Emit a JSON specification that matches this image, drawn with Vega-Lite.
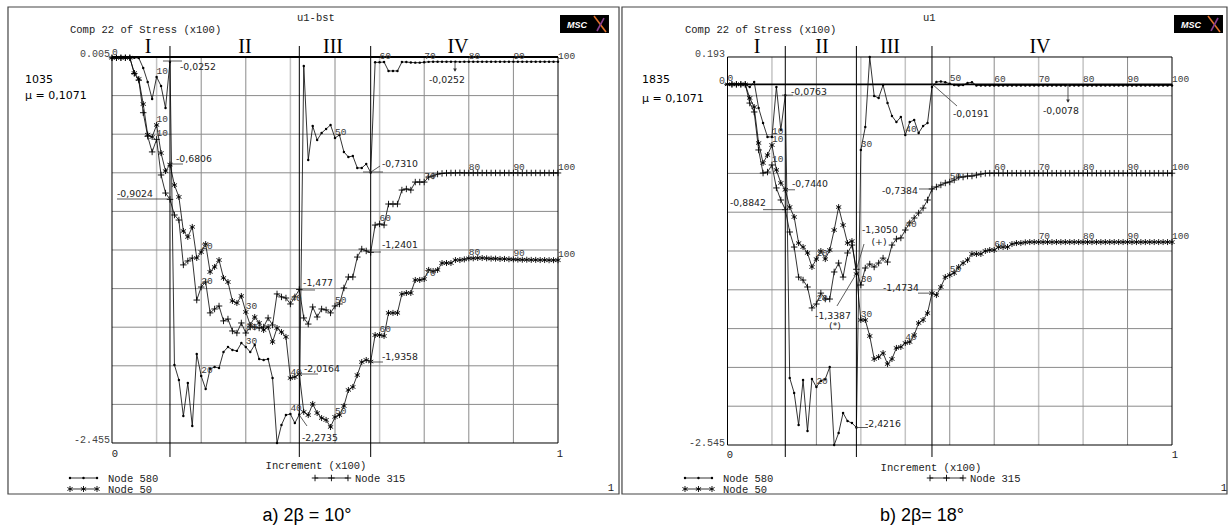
{
"$schema": "https://vega.github.io/schema/vega-lite/v6.json",
"width": 1229, "height": 526, "padding": 0, "autosize": {"type": "none"},
"background": "#ffffff",
"config": {"view": {"stroke": null}},
"datasets": {
"a": [
{"node":"580","inc":0,"v":0},{"node":"580","inc":1,"v":0},{"node":"580","inc":2,"v":0},{"node":"580","inc":3,"v":0},{"node":"580","inc":4,"v":0},{"node":"580","inc":5,"v":0},{"node":"580","inc":6,"v":-0.001},{"node":"580","inc":7,"v":-0.065},{"node":"580","inc":8,"v":-0.154},{"node":"580","inc":9,"v":-0.263},
{"node":"580","inc":10,"v":-0.122},{"node":"580","inc":11,"v":-0.18},{"node":"580","inc":12,"v":-0.32},{"node":"580","inc":13,"v":-0.0252},{"node":"580","inc":14,"v":-1.958},{"node":"580","inc":15,"v":-2.053},{"node":"580","inc":16,"v":-2.283},{"node":"580","inc":17,"v":-2.073},{"node":"580","inc":18,"v":-2.347},{"node":"580","inc":19,"v":-1.888},
{"node":"580","inc":20,"v":-2.028},{"node":"580","inc":21,"v":-2.111},{"node":"580","inc":22,"v":-1.983},{"node":"580","inc":23,"v":-1.971},{"node":"580","inc":24,"v":-1.977},{"node":"580","inc":25,"v":-1.875},{"node":"580","inc":26,"v":-1.843},{"node":"580","inc":27,"v":-1.862},{"node":"580","inc":28,"v":-1.868},{"node":"580","inc":29,"v":-1.818},
{"node":"580","inc":30,"v":-1.843},{"node":"580","inc":31,"v":-1.875},{"node":"580","inc":32,"v":-1.83},{"node":"580","inc":33,"v":-1.92},{"node":"580","inc":34,"v":-1.926},{"node":"580","inc":35,"v":-1.92},{"node":"580","inc":36,"v":-2.041},{"node":"580","inc":37,"v":-2.455},{"node":"580","inc":38,"v":-2.34},{"node":"580","inc":39,"v":-2.277},
{"node":"580","inc":40,"v":-2.27},{"node":"580","inc":41,"v":-2.328},{"node":"580","inc":42,"v":-2.2735},{"node":"580","inc":43,"v":-0.052},{"node":"580","inc":44,"v":-0.651},{"node":"580","inc":45,"v":-0.435},{"node":"580","inc":46,"v":-0.524},{"node":"580","inc":47,"v":-0.479},{"node":"580","inc":48,"v":-0.454},{"node":"580","inc":49,"v":-0.428},
{"node":"580","inc":50,"v":-0.511},{"node":"580","inc":51,"v":-0.492},{"node":"580","inc":52,"v":-0.6},{"node":"580","inc":53,"v":-0.632},{"node":"580","inc":54,"v":-0.626},{"node":"580","inc":55,"v":-0.702},{"node":"580","inc":56,"v":-0.702},{"node":"580","inc":57,"v":-0.677},{"node":"580","inc":58,"v":-0.731},{"node":"580","inc":59,"v":-0.029},
{"node":"580","inc":60,"v":-0.029},{"node":"580","inc":61,"v":-0.027},{"node":"580","inc":62,"v":-0.084},{"node":"580","inc":63,"v":-0.084},{"node":"580","inc":64,"v":-0.084},{"node":"580","inc":65,"v":-0.027},{"node":"580","inc":66,"v":-0.027},{"node":"580","inc":67,"v":-0.03},{"node":"580","inc":68,"v":-0.031},{"node":"580","inc":69,"v":-0.031},
{"node":"580","inc":70,"v":-0.028},{"node":"580","inc":71,"v":-0.026},{"node":"580","inc":72,"v":-0.025},{"node":"580","inc":73,"v":-0.025},{"node":"580","inc":74,"v":-0.025},{"node":"580","inc":75,"v":-0.0252},{"node":"580","inc":76,"v":-0.025},{"node":"580","inc":77,"v":-0.025},{"node":"580","inc":78,"v":-0.026},{"node":"580","inc":79,"v":-0.025},
{"node":"580","inc":80,"v":-0.025},{"node":"580","inc":81,"v":-0.025},{"node":"580","inc":82,"v":-0.025},{"node":"580","inc":83,"v":-0.025},{"node":"580","inc":84,"v":-0.025},{"node":"580","inc":85,"v":-0.025},{"node":"580","inc":86,"v":-0.025},{"node":"580","inc":87,"v":-0.025},{"node":"580","inc":88,"v":-0.025},{"node":"580","inc":89,"v":-0.025},
{"node":"580","inc":90,"v":-0.025},{"node":"580","inc":91,"v":-0.025},{"node":"580","inc":92,"v":-0.025},{"node":"580","inc":93,"v":-0.025},{"node":"580","inc":94,"v":-0.025},{"node":"580","inc":95,"v":-0.025},{"node":"580","inc":96,"v":-0.025},{"node":"580","inc":97,"v":-0.025},{"node":"580","inc":98,"v":-0.025},{"node":"580","inc":99,"v":-0.025},{"node":"580","inc":100,"v":-0.025},
{"node":"315","inc":0,"v":0},{"node":"315","inc":1,"v":0},{"node":"315","inc":2,"v":0},{"node":"315","inc":3,"v":0},{"node":"315","inc":4,"v":0},{"node":"315","inc":5,"v":-0.1},{"node":"315","inc":6,"v":-0.142},{"node":"315","inc":7,"v":-0.35},{"node":"315","inc":8,"v":-0.5},{"node":"315","inc":9,"v":-0.6},
{"node":"315","inc":10,"v":-0.52},{"node":"315","inc":11,"v":-0.747},{"node":"315","inc":12,"v":-0.862},{"node":"315","inc":13,"v":-0.9024},{"node":"315","inc":14,"v":-1.002},{"node":"315","inc":15,"v":-1.034},{"node":"315","inc":16,"v":-1.32},{"node":"315","inc":17,"v":-1.295},{"node":"315","inc":18,"v":-1.276},{"node":"315","inc":19,"v":-1.544},
{"node":"315","inc":20,"v":-1.461},{"node":"315","inc":21,"v":-1.429},{"node":"315","inc":22,"v":-1.626},{"node":"315","inc":23,"v":-1.601},{"node":"315","inc":24,"v":-1.582},{"node":"315","inc":25,"v":-1.677},{"node":"315","inc":26,"v":-1.665},{"node":"315","inc":27,"v":-1.741},{"node":"315","inc":28,"v":-1.754},{"node":"315","inc":29,"v":-1.69},
{"node":"315","inc":30,"v":-1.754},{"node":"315","inc":31,"v":-1.716},{"node":"315","inc":32,"v":-1.716},{"node":"315","inc":33,"v":-1.722},{"node":"315","inc":34,"v":-1.716},{"node":"315","inc":35,"v":-1.658},{"node":"315","inc":36,"v":-1.703},{"node":"315","inc":37,"v":-1.505},{"node":"315","inc":38,"v":-1.524},{"node":"315","inc":39,"v":-1.531},
{"node":"315","inc":40,"v":-1.569},{"node":"315","inc":41,"v":-1.524},{"node":"315","inc":42,"v":-1.477},{"node":"315","inc":43,"v":-1.658},{"node":"315","inc":44,"v":-1.697},{"node":"315","inc":45,"v":-1.588},{"node":"315","inc":46,"v":-1.652},{"node":"315","inc":47,"v":-1.601},{"node":"315","inc":48,"v":-1.607},{"node":"315","inc":49,"v":-1.626},
{"node":"315","inc":50,"v":-1.582},{"node":"315","inc":51,"v":-1.569},{"node":"315","inc":52,"v":-1.467},{"node":"315","inc":53,"v":-1.397},{"node":"315","inc":54,"v":-1.397},{"node":"315","inc":55,"v":-1.27},{"node":"315","inc":56,"v":-1.219},{"node":"315","inc":57,"v":-1.231},{"node":"315","inc":58,"v":-1.2401},{"node":"315","inc":59,"v":-1.066},
{"node":"315","inc":60,"v":-1.059},{"node":"315","inc":61,"v":-1.066},{"node":"315","inc":62,"v":-0.932},{"node":"315","inc":63,"v":-0.932},{"node":"315","inc":64,"v":-0.932},{"node":"315","inc":65,"v":-0.843},{"node":"315","inc":66,"v":-0.836},{"node":"315","inc":67,"v":-0.843},{"node":"315","inc":68,"v":-0.792},{"node":"315","inc":69,"v":-0.792},
{"node":"315","inc":70,"v":-0.792},{"node":"315","inc":71,"v":-0.76},{"node":"315","inc":72,"v":-0.753},{"node":"315","inc":73,"v":-0.741},{"node":"315","inc":74,"v":-0.737},{"node":"315","inc":75,"v":-0.735},{"node":"315","inc":76,"v":-0.734},{"node":"315","inc":77,"v":-0.734},{"node":"315","inc":78,"v":-0.733},{"node":"315","inc":79,"v":-0.734},
{"node":"315","inc":80,"v":-0.734},{"node":"315","inc":81,"v":-0.734},{"node":"315","inc":82,"v":-0.734},{"node":"315","inc":83,"v":-0.734},{"node":"315","inc":84,"v":-0.734},{"node":"315","inc":85,"v":-0.734},{"node":"315","inc":86,"v":-0.734},{"node":"315","inc":87,"v":-0.734},{"node":"315","inc":88,"v":-0.734},{"node":"315","inc":89,"v":-0.734},
{"node":"315","inc":90,"v":-0.734},{"node":"315","inc":91,"v":-0.734},{"node":"315","inc":92,"v":-0.735},{"node":"315","inc":93,"v":-0.734},{"node":"315","inc":94,"v":-0.734},{"node":"315","inc":95,"v":-0.734},{"node":"315","inc":96,"v":-0.734},{"node":"315","inc":97,"v":-0.734},{"node":"315","inc":98,"v":-0.734},{"node":"315","inc":99,"v":-0.734},{"node":"315","inc":100,"v":-0.734},
{"node":"50","inc":0,"v":0},{"node":"50","inc":1,"v":0},{"node":"50","inc":2,"v":0},{"node":"50","inc":3,"v":0},{"node":"50","inc":4,"v":0},{"node":"50","inc":5,"v":-0.097},{"node":"50","inc":6,"v":-0.135},{"node":"50","inc":7,"v":-0.295},{"node":"50","inc":8,"v":-0.49},{"node":"50","inc":9,"v":-0.505},
{"node":"50","inc":10,"v":-0.428},{"node":"50","inc":11,"v":-0.607},{"node":"50","inc":12,"v":-0.722},{"node":"50","inc":13,"v":-0.6806},{"node":"50","inc":14,"v":-0.811},{"node":"50","inc":15,"v":-0.887},{"node":"50","inc":16,"v":-1.104},{"node":"50","inc":17,"v":-1.142},{"node":"50","inc":18,"v":-1.078},{"node":"50","inc":19,"v":-1.276},
{"node":"50","inc":20,"v":-1.238},{"node":"50","inc":21,"v":-1.187},{"node":"50","inc":22,"v":-1.365},{"node":"50","inc":23,"v":-1.333},{"node":"50","inc":24,"v":-1.289},{"node":"50","inc":25,"v":-1.403},{"node":"50","inc":26,"v":-1.429},{"node":"50","inc":27,"v":-1.55},{"node":"50","inc":28,"v":-1.563},{"node":"50","inc":29,"v":-1.518},
{"node":"50","inc":30,"v":-1.62},{"node":"50","inc":31,"v":-1.703},{"node":"50","inc":32,"v":-1.652},{"node":"50","inc":33,"v":-1.69},{"node":"50","inc":34,"v":-1.735},{"node":"50","inc":35,"v":-1.716},{"node":"50","inc":36,"v":-1.811},{"node":"50","inc":37,"v":-1.722},{"node":"50","inc":38,"v":-1.748},{"node":"50","inc":39,"v":-1.779},
{"node":"50","inc":40,"v":-2.041},{"node":"50","inc":41,"v":-2.034},{"node":"50","inc":42,"v":-2.0164},{"node":"50","inc":43,"v":-2.257},{"node":"50","inc":44,"v":-2.277},{"node":"50","inc":45,"v":-2.206},{"node":"50","inc":46,"v":-2.264},{"node":"50","inc":47,"v":-2.296},{"node":"50","inc":48,"v":-2.308},{"node":"50","inc":49,"v":-2.353},
{"node":"50","inc":50,"v":-2.289},{"node":"50","inc":51,"v":-2.277},{"node":"50","inc":52,"v":-2.219},{"node":"50","inc":53,"v":-2.117},{"node":"50","inc":54,"v":-2.098},{"node":"50","inc":55,"v":-2.022},{"node":"50","inc":56,"v":-1.939},{"node":"50","inc":57,"v":-1.926},{"node":"50","inc":58,"v":-1.9358},{"node":"50","inc":59,"v":-1.767},
{"node":"50","inc":60,"v":-1.767},{"node":"50","inc":61,"v":-1.773},{"node":"50","inc":62,"v":-1.626},{"node":"50","inc":63,"v":-1.626},{"node":"50","inc":64,"v":-1.626},{"node":"50","inc":65,"v":-1.505},{"node":"50","inc":66,"v":-1.499},{"node":"50","inc":67,"v":-1.499},{"node":"50","inc":68,"v":-1.416},{"node":"50","inc":69,"v":-1.416},
{"node":"50","inc":70,"v":-1.41},{"node":"50","inc":71,"v":-1.352},{"node":"50","inc":72,"v":-1.359},{"node":"50","inc":73,"v":-1.352},{"node":"50","inc":74,"v":-1.308},{"node":"50","inc":75,"v":-1.308},{"node":"50","inc":76,"v":-1.308},{"node":"50","inc":77,"v":-1.289},{"node":"50","inc":78,"v":-1.289},{"node":"50","inc":79,"v":-1.285},
{"node":"50","inc":80,"v":-1.278},{"node":"50","inc":81,"v":-1.278},{"node":"50","inc":82,"v":-1.276},{"node":"50","inc":83,"v":-1.276},{"node":"50","inc":84,"v":-1.278},{"node":"50","inc":85,"v":-1.28},{"node":"50","inc":86,"v":-1.28},{"node":"50","inc":87,"v":-1.282},{"node":"50","inc":88,"v":-1.282},{"node":"50","inc":89,"v":-1.284},
{"node":"50","inc":90,"v":-1.285},{"node":"50","inc":91,"v":-1.286},{"node":"50","inc":92,"v":-1.287},{"node":"50","inc":93,"v":-1.287},{"node":"50","inc":94,"v":-1.288},{"node":"50","inc":95,"v":-1.288},{"node":"50","inc":96,"v":-1.289},{"node":"50","inc":97,"v":-1.289},{"node":"50","inc":98,"v":-1.29},{"node":"50","inc":99,"v":-1.29},{"node":"50","inc":100,"v":-1.29}
],
"b": [
{"node":"580","inc":0,"v":0},{"node":"580","inc":1,"v":0},{"node":"580","inc":2,"v":0},{"node":"580","inc":3,"v":0},{"node":"580","inc":4,"v":0},{"node":"580","inc":5,"v":-0.019},{"node":"580","inc":6,"v":0.017},{"node":"580","inc":7,"v":-0.167},{"node":"580","inc":8,"v":-0.273},{"node":"580","inc":9,"v":-0.371},
{"node":"580","inc":10,"v":-0.371},{"node":"580","inc":11,"v":-0.019},{"node":"580","inc":12,"v":-0.322},{"node":"580","inc":13,"v":-0.0763},{"node":"580","inc":14,"v":-2.072},{"node":"580","inc":15,"v":-2.178},{"node":"580","inc":16,"v":-2.404},{"node":"580","inc":17,"v":-2.087},{"node":"580","inc":18,"v":-2.446},{"node":"580","inc":19,"v":-2.079},
{"node":"580","inc":20,"v":-2.136},{"node":"580","inc":21,"v":-2.093},{"node":"580","inc":22,"v":-2.079},{"node":"580","inc":23,"v":-1.995},{"node":"580","inc":24,"v":-2.545},{"node":"580","inc":25,"v":-2.46},{"node":"580","inc":26,"v":-2.319},{"node":"580","inc":27,"v":-2.376},{"node":"580","inc":28,"v":-2.39},{"node":"580","inc":29,"v":-2.4216},
{"node":"580","inc":30,"v":-0.463},{"node":"580","inc":31,"v":-0.301},{"node":"580","inc":32,"v":0.193},{"node":"580","inc":33,"v":-0.082},{"node":"580","inc":34,"v":-0.096},{"node":"580","inc":35,"v":-0.005},{"node":"580","inc":36,"v":-0.132},{"node":"580","inc":37,"v":-0.223},{"node":"580","inc":38,"v":-0.266},{"node":"580","inc":39,"v":-0.23},
{"node":"580","inc":40,"v":-0.357},{"node":"580","inc":41,"v":-0.266},{"node":"580","inc":42,"v":-0.252},{"node":"580","inc":43,"v":-0.343},{"node":"580","inc":44,"v":-0.294},{"node":"580","inc":45,"v":-0.273},{"node":"580","inc":46,"v":-0.0191},{"node":"580","inc":47,"v":0.017},{"node":"580","inc":48,"v":0.02},{"node":"580","inc":49,"v":0.015},
{"node":"580","inc":50,"v":0.005},{"node":"580","inc":51,"v":-0.005},{"node":"580","inc":52,"v":-0.008},{"node":"580","inc":53,"v":-0.005},{"node":"580","inc":54,"v":0.01},{"node":"580","inc":55,"v":0.015},{"node":"580","inc":56,"v":-0.008},{"node":"580","inc":57,"v":-0.008},{"node":"580","inc":58,"v":-0.008},{"node":"580","inc":59,"v":-0.008},
{"node":"580","inc":60,"v":-0.008},{"node":"580","inc":61,"v":-0.008},{"node":"580","inc":62,"v":-0.008},{"node":"580","inc":63,"v":-0.008},{"node":"580","inc":64,"v":-0.008},{"node":"580","inc":65,"v":-0.008},{"node":"580","inc":66,"v":-0.008},{"node":"580","inc":67,"v":-0.008},{"node":"580","inc":68,"v":-0.008},{"node":"580","inc":69,"v":-0.008},
{"node":"580","inc":70,"v":-0.008},{"node":"580","inc":71,"v":-0.008},{"node":"580","inc":72,"v":-0.008},{"node":"580","inc":73,"v":-0.008},{"node":"580","inc":74,"v":-0.008},{"node":"580","inc":75,"v":-0.0078},{"node":"580","inc":76,"v":-0.008},{"node":"580","inc":77,"v":-0.008},{"node":"580","inc":78,"v":-0.008},{"node":"580","inc":79,"v":-0.008},
{"node":"580","inc":80,"v":-0.008},{"node":"580","inc":81,"v":-0.008},{"node":"580","inc":82,"v":-0.008},{"node":"580","inc":83,"v":-0.008},{"node":"580","inc":84,"v":-0.008},{"node":"580","inc":85,"v":-0.008},{"node":"580","inc":86,"v":-0.008},{"node":"580","inc":87,"v":-0.008},{"node":"580","inc":88,"v":-0.008},{"node":"580","inc":89,"v":-0.008},
{"node":"580","inc":90,"v":-0.008},{"node":"580","inc":91,"v":-0.008},{"node":"580","inc":92,"v":-0.008},{"node":"580","inc":93,"v":-0.008},{"node":"580","inc":94,"v":-0.008},{"node":"580","inc":95,"v":-0.008},{"node":"580","inc":96,"v":-0.008},{"node":"580","inc":97,"v":-0.008},{"node":"580","inc":98,"v":-0.008},{"node":"580","inc":99,"v":-0.008},{"node":"580","inc":100,"v":-0.008},
{"node":"315","inc":0,"v":0},{"node":"315","inc":1,"v":0},{"node":"315","inc":2,"v":0},{"node":"315","inc":3,"v":0},{"node":"315","inc":4,"v":0},{"node":"315","inc":5,"v":-0.132},{"node":"315","inc":6,"v":-0.195},{"node":"315","inc":7,"v":-0.463},{"node":"315","inc":8,"v":-0.626},{"node":"315","inc":9,"v":-0.619},
{"node":"315","inc":10,"v":-0.569},{"node":"315","inc":11,"v":-0.731},{"node":"315","inc":12,"v":-0.816},{"node":"315","inc":13,"v":-0.8842},{"node":"315","inc":14,"v":-1.042},{"node":"315","inc":15,"v":-1.148},{"node":"315","inc":16,"v":-1.36},{"node":"315","inc":17,"v":-1.381},{"node":"315","inc":18,"v":-1.43},{"node":"315","inc":19,"v":-1.578},
{"node":"315","inc":20,"v":-1.55},{"node":"315","inc":21,"v":-1.473},{"node":"315","inc":22,"v":-1.515},{"node":"315","inc":23,"v":-1.515},{"node":"315","inc":24,"v":-1.324},{"node":"315","inc":25,"v":-1.261},{"node":"315","inc":26,"v":-1.36},{"node":"315","inc":27,"v":-1.19},{"node":"315","inc":28,"v":-1.134},{"node":"315","inc":29,"v":-1.305},
{"node":"315","inc":30,"v":-1.416},{"node":"315","inc":31,"v":-1.296},{"node":"315","inc":32,"v":-1.268},{"node":"315","inc":33,"v":-1.289},{"node":"315","inc":34,"v":-1.261},{"node":"315","inc":35,"v":-1.226},{"node":"315","inc":36,"v":-1.254},{"node":"315","inc":37,"v":-1.134},{"node":"315","inc":38,"v":-1.091},{"node":"315","inc":39,"v":-1.084},
{"node":"315","inc":40,"v":-1.028},{"node":"315","inc":41,"v":-0.978},{"node":"315","inc":42,"v":-0.943},{"node":"315","inc":43,"v":-0.908},{"node":"315","inc":44,"v":-0.873},{"node":"315","inc":45,"v":-0.816},{"node":"315","inc":46,"v":-0.7384},{"node":"315","inc":47,"v":-0.724},{"node":"315","inc":48,"v":-0.71},{"node":"315","inc":49,"v":-0.696},
{"node":"315","inc":50,"v":-0.689},{"node":"315","inc":51,"v":-0.675},{"node":"315","inc":52,"v":-0.654},{"node":"315","inc":53,"v":-0.654},{"node":"315","inc":54,"v":-0.647},{"node":"315","inc":55,"v":-0.647},{"node":"315","inc":56,"v":-0.64},{"node":"315","inc":57,"v":-0.633},{"node":"315","inc":58,"v":-0.628},{"node":"315","inc":59,"v":-0.627},
{"node":"315","inc":60,"v":-0.627},{"node":"315","inc":61,"v":-0.627},{"node":"315","inc":62,"v":-0.627},{"node":"315","inc":63,"v":-0.627},{"node":"315","inc":64,"v":-0.627},{"node":"315","inc":65,"v":-0.627},{"node":"315","inc":66,"v":-0.627},{"node":"315","inc":67,"v":-0.627},{"node":"315","inc":68,"v":-0.627},{"node":"315","inc":69,"v":-0.627},
{"node":"315","inc":70,"v":-0.627},{"node":"315","inc":71,"v":-0.627},{"node":"315","inc":72,"v":-0.627},{"node":"315","inc":73,"v":-0.627},{"node":"315","inc":74,"v":-0.627},{"node":"315","inc":75,"v":-0.627},{"node":"315","inc":76,"v":-0.627},{"node":"315","inc":77,"v":-0.627},{"node":"315","inc":78,"v":-0.627},{"node":"315","inc":79,"v":-0.627},
{"node":"315","inc":80,"v":-0.627},{"node":"315","inc":81,"v":-0.627},{"node":"315","inc":82,"v":-0.627},{"node":"315","inc":83,"v":-0.627},{"node":"315","inc":84,"v":-0.627},{"node":"315","inc":85,"v":-0.627},{"node":"315","inc":86,"v":-0.627},{"node":"315","inc":87,"v":-0.627},{"node":"315","inc":88,"v":-0.627},{"node":"315","inc":89,"v":-0.627},
{"node":"315","inc":90,"v":-0.627},{"node":"315","inc":91,"v":-0.627},{"node":"315","inc":92,"v":-0.627},{"node":"315","inc":93,"v":-0.627},{"node":"315","inc":94,"v":-0.627},{"node":"315","inc":95,"v":-0.627},{"node":"315","inc":96,"v":-0.627},{"node":"315","inc":97,"v":-0.627},{"node":"315","inc":98,"v":-0.627},{"node":"315","inc":99,"v":-0.627},{"node":"315","inc":100,"v":-0.627},
{"node":"50","inc":0,"v":0},{"node":"50","inc":1,"v":0},{"node":"50","inc":2,"v":0},{"node":"50","inc":3,"v":0},{"node":"50","inc":4,"v":0},{"node":"50","inc":5,"v":-0.096},{"node":"50","inc":6,"v":-0.16},{"node":"50","inc":7,"v":-0.414},{"node":"50","inc":8,"v":-0.555},{"node":"50","inc":9,"v":-0.499},
{"node":"50","inc":10,"v":-0.428},{"node":"50","inc":11,"v":-0.604},{"node":"50","inc":12,"v":-0.696},{"node":"50","inc":13,"v":-0.744},{"node":"50","inc":14,"v":-0.866},{"node":"50","inc":15,"v":-0.936},{"node":"50","inc":16,"v":-1.12},{"node":"50","inc":17,"v":-1.148},{"node":"50","inc":18,"v":-1.19},{"node":"50","inc":19,"v":-1.289},
{"node":"50","inc":20,"v":-1.233},{"node":"50","inc":21,"v":-1.176},{"node":"50","inc":22,"v":-1.233},{"node":"50","inc":23,"v":-1.169},{"node":"50","inc":24,"v":-1.028},{"node":"50","inc":25,"v":-0.866},{"node":"50","inc":26,"v":-0.993},{"node":"50","inc":27,"v":-1.12},{"node":"50","inc":28,"v":-1.106},{"node":"50","inc":29,"v":-1.3387},
{"node":"50","inc":30,"v":-1.663},{"node":"50","inc":31,"v":-1.663},{"node":"50","inc":32,"v":-1.776},{"node":"50","inc":33,"v":-1.938},{"node":"50","inc":34,"v":-1.924},{"node":"50","inc":35,"v":-1.896},{"node":"50","inc":36,"v":-1.974},{"node":"50","inc":37,"v":-1.938},{"node":"50","inc":38,"v":-1.86},{"node":"50","inc":39,"v":-1.853},
{"node":"50","inc":40,"v":-1.825},{"node":"50","inc":41,"v":-1.818},{"node":"50","inc":42,"v":-1.769},{"node":"50","inc":43,"v":-1.684},{"node":"50","inc":44,"v":-1.663},{"node":"50","inc":45,"v":-1.614},{"node":"50","inc":46,"v":-1.4734},{"node":"50","inc":47,"v":-1.487},{"node":"50","inc":48,"v":-1.43},{"node":"50","inc":49,"v":-1.36},
{"node":"50","inc":50,"v":-1.346},{"node":"50","inc":51,"v":-1.331},{"node":"50","inc":52,"v":-1.289},{"node":"50","inc":53,"v":-1.261},{"node":"50","inc":54,"v":-1.24},{"node":"50","inc":55,"v":-1.197},{"node":"50","inc":56,"v":-1.197},{"node":"50","inc":57,"v":-1.197},{"node":"50","inc":58,"v":-1.176},{"node":"50","inc":59,"v":-1.169},
{"node":"50","inc":60,"v":-1.169},{"node":"50","inc":61,"v":-1.148},{"node":"50","inc":62,"v":-1.148},{"node":"50","inc":63,"v":-1.148},{"node":"50","inc":64,"v":-1.127},{"node":"50","inc":65,"v":-1.12},{"node":"50","inc":66,"v":-1.12},{"node":"50","inc":67,"v":-1.115},{"node":"50","inc":68,"v":-1.113},{"node":"50","inc":69,"v":-1.113},
{"node":"50","inc":70,"v":-1.113},{"node":"50","inc":71,"v":-1.113},{"node":"50","inc":72,"v":-1.113},{"node":"50","inc":73,"v":-1.113},{"node":"50","inc":74,"v":-1.113},{"node":"50","inc":75,"v":-1.113},{"node":"50","inc":76,"v":-1.113},{"node":"50","inc":77,"v":-1.113},{"node":"50","inc":78,"v":-1.113},{"node":"50","inc":79,"v":-1.113},
{"node":"50","inc":80,"v":-1.113},{"node":"50","inc":81,"v":-1.113},{"node":"50","inc":82,"v":-1.113},{"node":"50","inc":83,"v":-1.113},{"node":"50","inc":84,"v":-1.113},{"node":"50","inc":85,"v":-1.113},{"node":"50","inc":86,"v":-1.113},{"node":"50","inc":87,"v":-1.113},{"node":"50","inc":88,"v":-1.113},{"node":"50","inc":89,"v":-1.113},
{"node":"50","inc":90,"v":-1.113},{"node":"50","inc":91,"v":-1.113},{"node":"50","inc":92,"v":-1.113},{"node":"50","inc":93,"v":-1.113},{"node":"50","inc":94,"v":-1.113},{"node":"50","inc":95,"v":-1.113},{"node":"50","inc":96,"v":-1.113},{"node":"50","inc":97,"v":-1.113},{"node":"50","inc":98,"v":-1.113},{"node":"50","inc":99,"v":-1.113},{"node":"50","inc":100,"v":-1.113}
]
},
"resolve": {"scale": {"x": "independent", "y": "independent"}},
"layer": [
{
"encoding": {
"x": {"field": "inc", "type": "quantitative", "axis": null, "scale": {"domain": [-25.1121, 250.4484], "nice": false, "zero": false}},
"y": {"field": "v", "type": "quantitative", "axis": null, "scale": {"domain": [-2.98398, 0.36826], "nice": false, "zero": false}}
},
"layer": [
{"data": {"values": [{"inc": -23.32, "v": 0.3237, "inc2": 113.68, "v2": -2.78}]}, "mark": {"type": "rect", "fill": "#ffffff", "fillOpacity": 0, "stroke": "#444444", "strokeWidth": 1.2}, "encoding": {"x2": {"field": "inc2"}, "y2": {"field": "v2"}}},
{"data": {"values": [{"inc": 10, "v": 0.005, "inc2": 10, "v2": -2.455}, {"inc": 40, "v": 0.005, "inc2": 40, "v2": -2.455}, {"inc": 60, "v": 0.005, "inc2": 60, "v2": -2.455}]}, "mark": {"type": "rule", "color": "#c4c4c4", "strokeWidth": 1.5}, "encoding": {"x2": {"field": "inc2"}, "y2": {"field": "v2"}}},
{"data": {"values": [{"inc": 20, "v": 0.005, "inc2": 20, "v2": -2.455}, {"inc": 30, "v": 0.005, "inc2": 30, "v2": -2.455}, {"inc": 50, "v": 0.005, "inc2": 50, "v2": -2.455}, {"inc": 70, "v": 0.005, "inc2": 70, "v2": -2.455}, {"inc": 80, "v": 0.005, "inc2": 80, "v2": -2.455}, {"inc": 90, "v": 0.005, "inc2": 90, "v2": -2.455}]}, "mark": {"type": "rule", "color": "#8a8a8a", "strokeWidth": 1}, "encoding": {"x2": {"field": "inc2"}, "y2": {"field": "v2"}}},
{"data": {"values": [{"inc": 0, "v": -0.241, "inc2": 100, "v2": -0.241}, {"inc": 0, "v": -0.487, "inc2": 100, "v2": -0.487}, {"inc": 0, "v": -0.733, "inc2": 100, "v2": -0.733}, {"inc": 0, "v": -0.979, "inc2": 100, "v2": -0.979}, {"inc": 0, "v": -1.225, "inc2": 100, "v2": -1.225}, {"inc": 0, "v": -1.471, "inc2": 100, "v2": -1.471}, {"inc": 0, "v": -1.717, "inc2": 100, "v2": -1.717}, {"inc": 0, "v": -1.963, "inc2": 100, "v2": -1.963}, {"inc": 0, "v": -2.209, "inc2": 100, "v2": -2.209}]}, "mark": {"type": "rule", "color": "#8a8a8a", "strokeWidth": 1}, "encoding": {"x2": {"field": "inc2"}, "y2": {"field": "v2"}}},
{"data": {"values": [{"inc": 0, "v": 0.005, "inc2": 0, "v2": -2.455}, {"inc": 100, "v": 0.005, "inc2": 100, "v2": -2.455}, {"inc": 0, "v": -2.455, "inc2": 100, "v2": -2.455}]}, "mark": {"type": "rule", "color": "#000000", "strokeWidth": 1}, "encoding": {"x2": {"field": "inc2"}, "y2": {"field": "v2"}}},
{"data": {"values": [{"inc": 0, "v": 0.005, "inc2": 100, "v2": 0.005}]}, "mark": {"type": "rule", "color": "#000000", "strokeWidth": 1.8}, "encoding": {"x2": {"field": "inc2"}, "y2": {"field": "v2"}}},
{"data": {"values": [{"inc": 13, "v": 0.0751, "inc2": 13, "v2": -2.5442}, {"inc": 42, "v": 0.0751, "inc2": 42, "v2": -2.5442}, {"inc": 58, "v": 0.0751, "inc2": 58, "v2": -2.5442}]}, "mark": {"type": "rule", "color": "#000000", "strokeWidth": 1}, "encoding": {"x2": {"field": "inc2"}, "y2": {"field": "v2"}}},
{"data": {"name": "a"}, "mark": {"type": "line", "color": "#000000", "strokeWidth": 0.8}, "encoding": {"detail": {"field": "node"}}},
{"data": {"name": "a"}, "transform": [{"filter": "datum.node == '580'"}], "mark": {"type": "point", "shape": "circle", "filled": true, "color": "#000000", "size": 6, "strokeWidth": 0, "opacity": 1}},
{"data": {"name": "a"}, "transform": [{"filter": "datum.node == '315'"}], "mark": {"type": "point", "shape": "M-1,0L1,0M0,-1L0,1", "filled": false, "color": "#000000", "strokeWidth": 0.9, "size": 42, "opacity": 1}},
{"data": {"name": "a"}, "transform": [{"filter": "datum.node == '50'"}], "mark": {"type": "point", "shape": "M0,-1L0,1M-0.87,-0.5L0.87,0.5M-0.87,0.5L0.87,-0.5", "filled": false, "color": "#000000", "strokeWidth": 0.9, "size": 36, "opacity": 1}},
{"data": {"name": "a"}, "transform": [{"filter": "datum.inc % 10 == 0 && (datum.inc > 0 || datum.node == '580')"}], "mark": {"type": "text", "font": "Liberation Mono", "fontSize": 9.5, "color": "#3a3a3a", "align": "left", "baseline": "alphabetic", "dx": 0, "dy": -3}, "encoding": {"text": {"field": "inc", "type": "quantitative", "format": "d"}}},
{"data": {"values": [{"node": "580", "inc": -9.42, "v": -2.6781}, {"node": "580", "inc": -6.39, "v": -2.6781}, {"node": "580", "inc": -3.36, "v": -2.6781}, {"node": "50", "inc": -9.42, "v": -2.7481}, {"node": "50", "inc": -6.39, "v": -2.7481}, {"node": "50", "inc": -3.36, "v": -2.7481}, {"node": "315", "inc": 45.52, "v": -2.6781}, {"node": "315", "inc": 49.2, "v": -2.6781}, {"node": "315", "inc": 52.91, "v": -2.6781}]},
 "layer": [
  {"mark": {"type": "line", "color": "#000000", "strokeWidth": 0.8}, "encoding": {"detail": {"field": "node"}}},
  {"transform": [{"filter": "datum.node == '580'"}], "mark": {"type": "point", "shape": "circle", "filled": true, "color": "#000000", "size": 6, "strokeWidth": 0, "opacity": 1}},
  {"transform": [{"filter": "datum.node == '315'"}], "mark": {"type": "point", "shape": "M-1,0L1,0M0,-1L0,1", "filled": false, "color": "#000000", "strokeWidth": 0.9, "size": 42, "opacity": 1}},
  {"transform": [{"filter": "datum.node == '50'"}], "mark": {"type": "point", "shape": "M0,-1L0,1M-0.87,-0.5L0.87,0.5M-0.87,0.5L0.87,-0.5", "filled": false, "color": "#000000", "strokeWidth": 0.9, "size": 36, "opacity": 1}}
 ]},
{"data": {"values": [
 {"inc": 11.43, "v": -0.0205, "inc2": 15.7, "v2": -0.0205},
 {"inc": 12.56, "v": -0.677, "inc2": 15.92, "v2": -0.677},
 {"inc": 1.12, "v": -0.9, "inc2": 13.0, "v2": -0.9},
 {"inc": 56.28, "v": -0.7279, "inc2": 60.76, "v2": -0.7279},
 {"inc": 58.07, "v": -0.7279, "inc2": 60.09, "v2": -0.6897},
 {"inc": 76.91, "v": -0.0269, "inc2": 76.91, "v2": -0.0842},
 {"inc": 57.85, "v": -1.2378, "inc2": 60.31, "v2": -1.2378},
 {"inc": 42.15, "v": -1.4799, "inc2": 45.52, "v2": -1.4799},
 {"inc": 57.85, "v": -1.9388, "inc2": 60.76, "v2": -1.9388},
 {"inc": 42.15, "v": -2.0153, "inc2": 46.19, "v2": -2.0153},
 {"inc": 42.15, "v": -2.2829, "inc2": 43.72, "v2": -2.3466}
 ]}, "mark": {"type": "rule", "color": "#333333", "strokeWidth": 0.8}, "encoding": {"x2": {"field": "inc2"}, "y2": {"field": "v2"}}},
{"data": {"values": [{"inc": 76.91, "v": -0.078}]}, "mark": {"type": "point", "shape": "triangle-down", "filled": true, "color": "#333333", "size": 14, "opacity": 1}},
{"data": {"values": [
 {"inc": 15.25, "v": -0.0779, "label": "-0,0252"},
 {"inc": 14.35, "v": -0.6642, "label": "-0,6806"},
 {"inc": 1.12, "v": -0.8872, "label": "-0,9024"},
 {"inc": 60.54, "v": -0.696, "label": "-0,7310"},
 {"inc": 71.08, "v": -0.1607, "label": "-0,0252"},
 {"inc": 60.54, "v": -1.2123, "label": "-1,2401"},
 {"inc": 42.83, "v": -1.4544, "label": "-1,477"},
 {"inc": 60.54, "v": -1.926, "label": "-1,9358"},
 {"inc": 43.05, "v": -2.0025, "label": "-2,0164"},
 {"inc": 42.6, "v": -2.442, "label": "-2,2735"}
 ]}, "mark": {"type": "text", "font": "DejaVu Sans", "fontSize": 9.3, "color": "#222222", "align": "left", "baseline": "alphabetic"}, "encoding": {"text": {"field": "label"}}},
{"data": {"values": [
 {"inc": 41.48, "v": 0.2344, "label": "u1-bst"},
 {"inc": -9.42, "v": 0.158, "label": "Comp 22 of Stress (x100)"},
 {"inc": -0.9, "v": -2.7035, "label": "Node 580"},
 {"inc": -0.9, "v": -2.7737, "label": "Node 50"},
 {"inc": 54.48, "v": -2.7035, "label": "Node 315"}
 ]}, "mark": {"type": "text", "font": "Liberation Mono", "fontSize": 10.5, "color": "#222222", "align": "left", "baseline": "alphabetic"}, "encoding": {"text": {"field": "label"}}},
{"data": {"values": [
 {"inc": -0.448, "v": 0.005, "label": "0.005"},
 {"inc": -0.448, "v": -2.455, "label": "-2.455"}
 ]}, "mark": {"type": "text", "font": "Liberation Mono", "fontSize": 10, "color": "#444444", "align": "right", "baseline": "alphabetic"}, "encoding": {"text": {"field": "label"}}},
{"data": {"values": [
 {"inc": 0.67, "v": -2.5442, "label": "0"},
 {"inc": 100.45, "v": -2.5442, "label": "1"},
 {"inc": 45.74, "v": -2.6207, "label": "Increment (x100)"},
 {"inc": 111.88, "v": -2.761, "label": "1"}
 ]}, "mark": {"type": "text", "font": "Liberation Mono", "fontSize": 10.5, "color": "#222222", "align": "center", "baseline": "alphabetic"}, "encoding": {"text": {"field": "label"}}},
{"data": {"values": [
 {"inc": 8.07, "v": 0.0305, "label": "I"},
 {"inc": 29.82, "v": 0.0305, "label": "II"},
 {"inc": 49.55, "v": 0.0305, "label": "III"},
 {"inc": 77.58, "v": 0.0305, "label": "IV"}
 ]}, "mark": {"type": "text", "font": "Liberation Serif", "fontSize": 20, "color": "#000000", "align": "center", "baseline": "alphabetic"}, "encoding": {"text": {"field": "label"}}},
{"data": {"values": [
 {"inc": -19.51, "v": -0.1607, "label": "1035"},
 {"inc": -19.51, "v": -0.2627, "label": "μ = 0,1071"}
 ]}, "mark": {"type": "text", "font": "DejaVu Sans", "fontSize": 11, "color": "#000000", "align": "left", "baseline": "alphabetic"}, "encoding": {"text": {"field": "label"}}},
{"data": {"values": [{"inc": 43.72, "v": -2.952, "label": "a) 2β = 10°"}]}, "mark": {"type": "text", "font": "Liberation Sans", "fontSize": 18, "color": "#000000", "align": "center", "baseline": "alphabetic"}, "encoding": {"text": {"field": "label"}}},
{"data": {"values": [{"inc": 100.45, "v": 0.2727, "inc2": 111.43, "v2": 0.158}]}, "mark": {"type": "rect", "color": "#000000"}, "encoding": {"x2": {"field": "inc2"}, "y2": {"field": "v2"}}},
{"data": {"values": [{"inc": 104.26, "v": 0.209, "label": "MSC"}]}, "mark": {"type": "text", "font": "Liberation Sans", "fontSize": 9, "fontWeight": "bold", "fontStyle": "italic", "color": "#ffffff", "align": "center", "baseline": "middle"}, "encoding": {"text": {"field": "label"}}},
{"data": {"values": [{"inc": 108.07, "v": 0.2663, "inc2": 110.76, "v2": 0.1643}]}, "mark": {"type": "rule", "color": "#e0702a", "strokeWidth": 1.6}, "encoding": {"x2": {"field": "inc2"}, "y2": {"field": "v2"}}},
{"data": {"values": [{"inc": 110.31, "v": 0.2535, "inc2": 108.74, "v2": 0.1707}]}, "mark": {"type": "rule", "color": "#8a3f8f", "strokeWidth": 1.6}, "encoding": {"x2": {"field": "inc2"}, "y2": {"field": "v2"}}}
]
},
{
"encoding": {
"x": {"field": "inc", "type": "quantitative", "axis": null, "scale": {"domain": [-163.667, 112.823], "nice": false, "zero": false}},
"y": {"field": "v", "type": "quantitative", "axis": null, "scale": {"domain": [-3.11658, 0.59523], "nice": false, "zero": false}}
},
"layer": [
{"data": {"values": [{"inc": -23.74, "v": 0.5458, "inc2": 112.37, "v2": -2.8907}]}, "mark": {"type": "rect", "fill": "#ffffff", "fillOpacity": 0, "stroke": "#444444", "strokeWidth": 1.2}, "encoding": {"x2": {"field": "inc2"}, "y2": {"field": "v2"}}},
{"data": {"values": [{"inc": 10, "v": 0.193, "inc2": 10, "v2": -2.545}, {"inc": 30, "v": 0.193, "inc2": 30, "v2": -2.545}, {"inc": 40, "v": 0.193, "inc2": 40, "v2": -2.545}, {"inc": 70, "v": 0.193, "inc2": 70, "v2": -2.545}, {"inc": 80, "v": 0.193, "inc2": 80, "v2": -2.545}]}, "mark": {"type": "rule", "color": "#c4c4c4", "strokeWidth": 1.5}, "encoding": {"x2": {"field": "inc2"}, "y2": {"field": "v2"}}},
{"data": {"values": [{"inc": 20, "v": 0.193, "inc2": 20, "v2": -2.545}, {"inc": 50, "v": 0.193, "inc2": 50, "v2": -2.545}, {"inc": 60, "v": 0.193, "inc2": 60, "v2": -2.545}, {"inc": 90, "v": 0.193, "inc2": 90, "v2": -2.545}]}, "mark": {"type": "rule", "color": "#8a8a8a", "strokeWidth": 1}, "encoding": {"x2": {"field": "inc2"}, "y2": {"field": "v2"}}},
{"data": {"values": [{"inc": 0, "v": -0.0808, "inc2": 100, "v2": -0.0808}, {"inc": 0, "v": -0.3546, "inc2": 100, "v2": -0.3546}, {"inc": 0, "v": -0.6284, "inc2": 100, "v2": -0.6284}, {"inc": 0, "v": -0.9022, "inc2": 100, "v2": -0.9022}, {"inc": 0, "v": -1.176, "inc2": 100, "v2": -1.176}, {"inc": 0, "v": -1.4498, "inc2": 100, "v2": -1.4498}, {"inc": 0, "v": -1.7236, "inc2": 100, "v2": -1.7236}, {"inc": 0, "v": -1.9974, "inc2": 100, "v2": -1.9974}, {"inc": 0, "v": -2.2712, "inc2": 100, "v2": -2.2712}]}, "mark": {"type": "rule", "color": "#8a8a8a", "strokeWidth": 1}, "encoding": {"x2": {"field": "inc2"}, "y2": {"field": "v2"}}},
{"data": {"values": [{"inc": 0, "v": 0.193, "inc2": 0, "v2": -2.545}, {"inc": 100, "v": 0.193, "inc2": 100, "v2": -2.545}, {"inc": 0, "v": 0.193, "inc2": 100, "v2": 0.193}, {"inc": 0, "v": -2.545, "inc2": 100, "v2": -2.545}]}, "mark": {"type": "rule", "color": "#000000", "strokeWidth": 1}, "encoding": {"x2": {"field": "inc2"}, "y2": {"field": "v2"}}},
{"data": {"values": [{"inc": 0, "v": 0, "inc2": 100, "v2": 0}]}, "mark": {"type": "rule", "color": "#000000", "strokeWidth": 1.8}, "encoding": {"x2": {"field": "inc2"}, "y2": {"field": "v2"}}},
{"data": {"values": [{"inc": 13, "v": 0.2706, "inc2": 13, "v2": -2.6297}, {"inc": 29, "v": 0.2706, "inc2": 29, "v2": -2.6297}, {"inc": 46, "v": 0.2706, "inc2": 46, "v2": -2.6297}]}, "mark": {"type": "rule", "color": "#000000", "strokeWidth": 1}, "encoding": {"x2": {"field": "inc2"}, "y2": {"field": "v2"}}},
{"data": {"name": "b"}, "mark": {"type": "line", "color": "#000000", "strokeWidth": 0.8}, "encoding": {"detail": {"field": "node"}}},
{"data": {"name": "b"}, "transform": [{"filter": "datum.node == '580'"}], "mark": {"type": "point", "shape": "circle", "filled": true, "color": "#000000", "size": 6, "strokeWidth": 0, "opacity": 1}},
{"data": {"name": "b"}, "transform": [{"filter": "datum.node == '315'"}], "mark": {"type": "point", "shape": "M-1,0L1,0M0,-1L0,1", "filled": false, "color": "#000000", "strokeWidth": 0.9, "size": 42, "opacity": 1}},
{"data": {"name": "b"}, "transform": [{"filter": "datum.node == '50'"}], "mark": {"type": "point", "shape": "M0,-1L0,1M-0.87,-0.5L0.87,0.5M-0.87,0.5L0.87,-0.5", "filled": false, "color": "#000000", "strokeWidth": 0.9, "size": 36, "opacity": 1}},
{"data": {"name": "b"}, "transform": [{"filter": "datum.inc % 10 == 0 && (datum.inc > 0 || datum.node == '580')"}], "mark": {"type": "text", "font": "Liberation Mono", "fontSize": 9.5, "color": "#3a3a3a", "align": "left", "baseline": "alphabetic", "dx": 0, "dy": -3}, "encoding": {"text": {"field": "inc", "type": "quantitative", "format": "d"}}},
{"data": {"values": [{"node": "580", "inc": -9.56, "v": -2.7779}, {"node": "580", "inc": -6.53, "v": -2.7779}, {"node": "580", "inc": -3.49, "v": -2.7779}, {"node": "50", "inc": -9.56, "v": -2.8555}, {"node": "50", "inc": -6.53, "v": -2.8555}, {"node": "50", "inc": -3.49, "v": -2.8555}, {"node": "315", "inc": 45.56, "v": -2.7779}, {"node": "315", "inc": 49.27, "v": -2.7779}, {"node": "315", "inc": 52.98, "v": -2.7779}]},
 "layer": [
  {"mark": {"type": "line", "color": "#000000", "strokeWidth": 0.8}, "encoding": {"detail": {"field": "node"}}},
  {"transform": [{"filter": "datum.node == '580'"}], "mark": {"type": "point", "shape": "circle", "filled": true, "color": "#000000", "size": 6, "strokeWidth": 0, "opacity": 1}},
  {"transform": [{"filter": "datum.node == '315'"}], "mark": {"type": "point", "shape": "M-1,0L1,0M0,-1L0,1", "filled": false, "color": "#000000", "strokeWidth": 0.9, "size": 42, "opacity": 1}},
  {"transform": [{"filter": "datum.node == '50'"}], "mark": {"type": "point", "shape": "M0,-1L0,1M-0.87,-0.5L0.87,0.5M-0.87,0.5L0.87,-0.5", "filled": false, "color": "#000000", "strokeWidth": 0.9, "size": 36, "opacity": 1}}
 ]},
{"data": {"values": [
 {"inc": 12.26, "v": -0.0763, "inc2": 14.74, "v2": -0.0763},
 {"inc": 12.94, "v": -0.744, "inc2": 15.19, "v2": -0.744},
 {"inc": 7.99, "v": -0.8842, "inc2": 12.94, "v2": -0.8842},
 {"inc": 28.91, "v": -1.3171, "inc2": 30.71, "v2": -1.1266},
 {"inc": 28.68, "v": -1.3524, "inc2": 24.63, "v2": -1.5641},
 {"inc": 42.86, "v": -1.4734, "inc2": 46.01, "v2": -1.4734},
 {"inc": 43.08, "v": -0.7384, "inc2": 46.01, "v2": -0.7384},
 {"inc": 46.01, "v": 0.0025, "inc2": 51.63, "v2": -0.1528},
 {"inc": 76.6, "v": 0.0025, "inc2": 76.6, "v2": -0.1246},
 {"inc": 28.68, "v": -2.4216, "inc2": 31.61, "v2": -2.4216}
 ]}, "mark": {"type": "rule", "color": "#333333", "strokeWidth": 0.8}, "encoding": {"x2": {"field": "inc2"}, "y2": {"field": "v2"}}},
{"data": {"values": [{"inc": 76.6, "v": -0.118}]}, "mark": {"type": "point", "shape": "triangle-down", "filled": true, "color": "#333333", "size": 14, "opacity": 1}},
{"data": {"values": [
 {"inc": 14.29, "v": -0.0752, "label": "-0,0763"},
 {"inc": 14.51, "v": -0.7244, "label": "-0,7440"},
 {"inc": 0.56, "v": -0.8584, "label": "-0,8842"},
 {"inc": 30.26, "v": -1.049, "label": "-1,3050"},
 {"inc": 19.69, "v": -1.6558, "label": "-1,3387"},
 {"inc": 34.98, "v": -1.4583, "label": "-1,4734"},
 {"inc": 34.76, "v": -0.7738, "label": "-0,7384"},
 {"inc": 50.73, "v": -0.2304, "label": "-0,0191"},
 {"inc": 70.98, "v": -0.2092, "label": "-0,0078"},
 {"inc": 30.93, "v": -2.418, "label": "-2,4216"}
 ]}, "mark": {"type": "text", "font": "DejaVu Sans", "fontSize": 9.3, "color": "#222222", "align": "left", "baseline": "alphabetic"}, "encoding": {"text": {"field": "label"}}},
{"data": {"values": [
 {"inc": 34.08, "v": -1.1336, "label": "(+)"},
 {"inc": 24.18, "v": -1.7264, "label": "(*)"}
 ]}, "mark": {"type": "text", "font": "DejaVu Sans", "fontSize": 9.3, "color": "#222222", "align": "center", "baseline": "alphabetic"}, "encoding": {"text": {"field": "label"}}},
{"data": {"values": [
 {"inc": 43.98, "v": 0.447, "label": "u1"},
 {"inc": -9.56, "v": 0.3624, "label": "Comp 22 of Stress (x100)"},
 {"inc": -1.01, "v": -2.8061, "label": "Node 580"},
 {"inc": -1.01, "v": -2.8837, "label": "Node 50"},
 {"inc": 54.56, "v": -2.8061, "label": "Node 315"}
 ]}, "mark": {"type": "text", "font": "Liberation Mono", "fontSize": 10.5, "color": "#222222", "align": "left", "baseline": "alphabetic"}, "encoding": {"text": {"field": "label"}}},
{"data": {"values": [
 {"inc": -0.56, "v": 0.193, "label": "0.193"},
 {"inc": -0.56, "v": 0.0025, "label": "0"},
 {"inc": -0.56, "v": -2.552, "label": "-2.545"}
 ]}, "mark": {"type": "text", "font": "Liberation Mono", "fontSize": 10, "color": "#444444", "align": "right", "baseline": "alphabetic"}, "encoding": {"text": {"field": "label"}}},
{"data": {"values": [
 {"inc": 0.56, "v": -2.6367, "label": "0"},
 {"inc": 100.67, "v": -2.6367, "label": "1"},
 {"inc": 45.78, "v": -2.7284, "label": "Increment (x100)"},
 {"inc": 111.7, "v": -2.8696, "label": "1"}
 ]}, "mark": {"type": "text", "font": "Liberation Mono", "fontSize": 10.5, "color": "#222222", "align": "center", "baseline": "alphabetic"}, "encoding": {"text": {"field": "label"}}},
{"data": {"values": [
 {"inc": 6.64, "v": 0.2212, "label": "I"},
 {"inc": 21.26, "v": 0.2212, "label": "II"},
 {"inc": 36.56, "v": 0.2212, "label": "III"},
 {"inc": 70.3, "v": 0.2212, "label": "IV"}
 ]}, "mark": {"type": "text", "font": "Liberation Serif", "fontSize": 20, "color": "#000000", "align": "center", "baseline": "alphabetic"}, "encoding": {"text": {"field": "label"}}},
{"data": {"values": [
 {"inc": -19.24, "v": 0.0095, "label": "1835"},
 {"inc": -19.24, "v": -0.1245, "label": "μ = 0,1071"}
 ]}, "mark": {"type": "text", "font": "DejaVu Sans", "fontSize": 11, "color": "#000000", "align": "left", "baseline": "alphabetic"}, "encoding": {"text": {"field": "label"}}},
{"data": {"values": [{"inc": 43.76, "v": -3.0812, "label": "b) 2β= 18°"}]}, "mark": {"type": "text", "font": "Liberation Sans", "fontSize": 18, "color": "#000000", "align": "center", "baseline": "alphabetic"}, "encoding": {"text": {"field": "label"}}},
{"data": {"values": [{"inc": 100.45, "v": 0.4894, "inc2": 111.47, "v2": 0.3624}]}, "mark": {"type": "rect", "color": "#000000"}, "encoding": {"x2": {"field": "inc2"}, "y2": {"field": "v2"}}},
{"data": {"values": [{"inc": 104.27, "v": 0.4188, "label": "MSC"}]}, "mark": {"type": "text", "font": "Liberation Sans", "fontSize": 9, "fontWeight": "bold", "fontStyle": "italic", "color": "#ffffff", "align": "center", "baseline": "middle"}, "encoding": {"text": {"field": "label"}}},
{"data": {"values": [{"inc": 108.1, "v": 0.4823, "inc2": 110.8, "v2": 0.3694}]}, "mark": {"type": "rule", "color": "#e0702a", "strokeWidth": 1.6}, "encoding": {"x2": {"field": "inc2"}, "y2": {"field": "v2"}}},
{"data": {"values": [{"inc": 110.35, "v": 0.4682, "inc2": 108.78, "v2": 0.3765}]}, "mark": {"type": "rule", "color": "#8a3f8f", "strokeWidth": 1.6}, "encoding": {"x2": {"field": "inc2"}, "y2": {"field": "v2"}}}
]
}
]
}
